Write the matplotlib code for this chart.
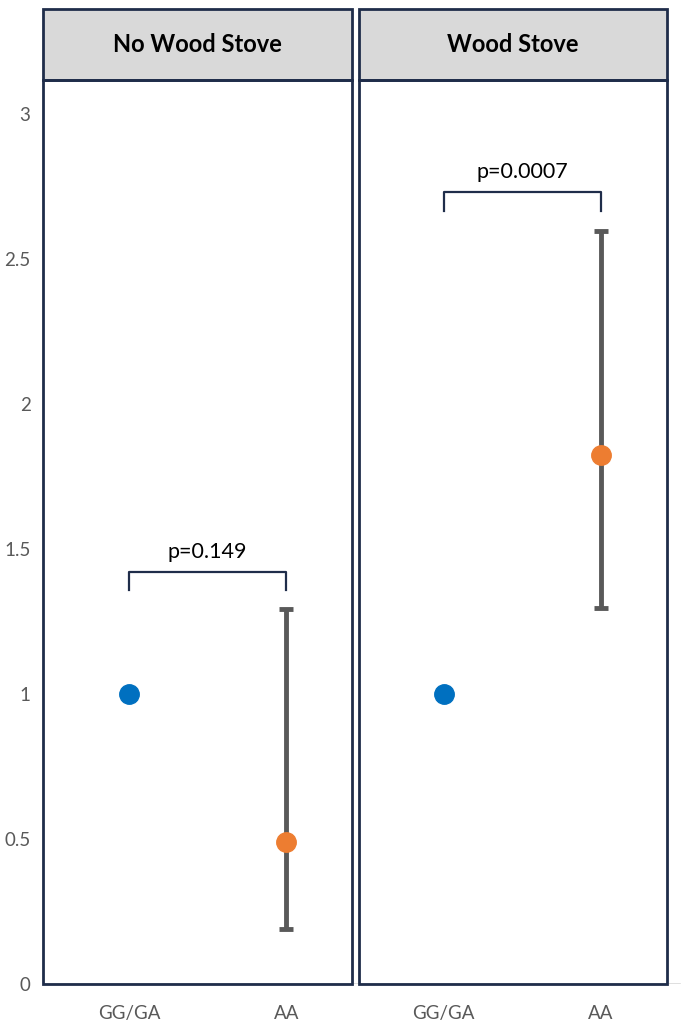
import matplotlib.pyplot as plt
from matplotlib.patches import Rectangle
import numpy as np

plt.rcParams['font.family'] = ['Lato', 'DejaVu Sans']

panels = ["No Wood Stove", "Wood Stove"]
categories = ["GG/GA", "AA", "GG/GA", "AA"]
ref_value = [1.0, 1.0]
aa_value = [0.49, 1.825]
aa_low = [0.19, 1.297]
aa_high = [1.293, 2.597]
p_labels = ["p=0.149", "p=0.0007"]
bracket_y = [1.42, 2.73]
bracket_leg = [1.36, 2.665]
yticks = [0, 0.5, 1, 1.5, 2, 2.5, 3]

W, H = 685, 1024
fig = plt.figure(figsize=(W / 100, H / 100), dpi=100)
# axes spans pixel x 43..685 and y 9..984
ax = fig.add_axes([43 / W, (H - 984) / H, (685 - 43) / W, (984 - 9) / H])

step = 157.3
x0 = 129
def px(p):
    return (p - x0) / step

ax.set_xlim(px(43), px(685))
ax.set_ylim(0, 975 / 290)
for s in ax.spines.values():
    s.set_visible(False)

# baseline
ax.plot([px(43), px(680)], [0, 0], color='#d9d9d9', lw=1.2, zorder=1)

navy = '#1f2d4a'
top_plot = (984 - 80) / 290
top_head = (984 - 9) / 290
panel_edges = [(px(43), px(352)), (px(359), px(667))]
for (l, r), name in zip(panel_edges, panels):
    ax.add_patch(Rectangle((l, top_plot), r - l, top_head - top_plot, facecolor='#d9d9d9',
                           edgecolor=navy, lw=2, zorder=2, clip_on=False))
    ax.add_patch(Rectangle((l, 0), r - l, top_plot, facecolor='none',
                           edgecolor=navy, lw=2, zorder=2, clip_on=False))
    ax.text((l + r) / 2, (top_plot + top_head) / 2, name, ha='center', va='center',
            fontsize=17, fontweight='bold', color='black', zorder=3)

for i in range(2):
    xr = 2 * i
    xa = 2 * i + 1
    ax.errorbar([xa], [aa_value[i]],
                yerr=[[aa_value[i] - aa_low[i]], [aa_high[i] - aa_value[i]]],
                fmt='none', ecolor='#595959', elinewidth=3.5, capsize=5, capthick=3.5, zorder=4)
    ax.plot([xr], [ref_value[i]], 'o', color='#0070c0', ms=14, zorder=5)
    ax.plot([xa], [aa_value[i]], 'o', color='#ed7d31', ms=14, zorder=5)
    ax.plot([xr, xr, xa, xa], [bracket_leg[i], bracket_y[i], bracket_y[i], bracket_leg[i]],
            color=navy, lw=1.6, zorder=4)
    ax.text((xr + xa) / 2, bracket_y[i] + 0.035, p_labels[i], ha='center', va='bottom',
            fontsize=15.5, color='black')

ax.set_yticks(yticks)
ax.set_yticklabels([f"{t:g}" for t in yticks])
ax.set_xticks(range(4))
ax.set_xticklabels(categories)
ax.tick_params(axis='y', length=0, pad=9, labelsize=13.5, labelcolor='#595959')
ax.tick_params(axis='x', length=0, pad=15, labelsize=13.5, labelcolor='#595959')

fig.savefig('out.png', dpi=100)
